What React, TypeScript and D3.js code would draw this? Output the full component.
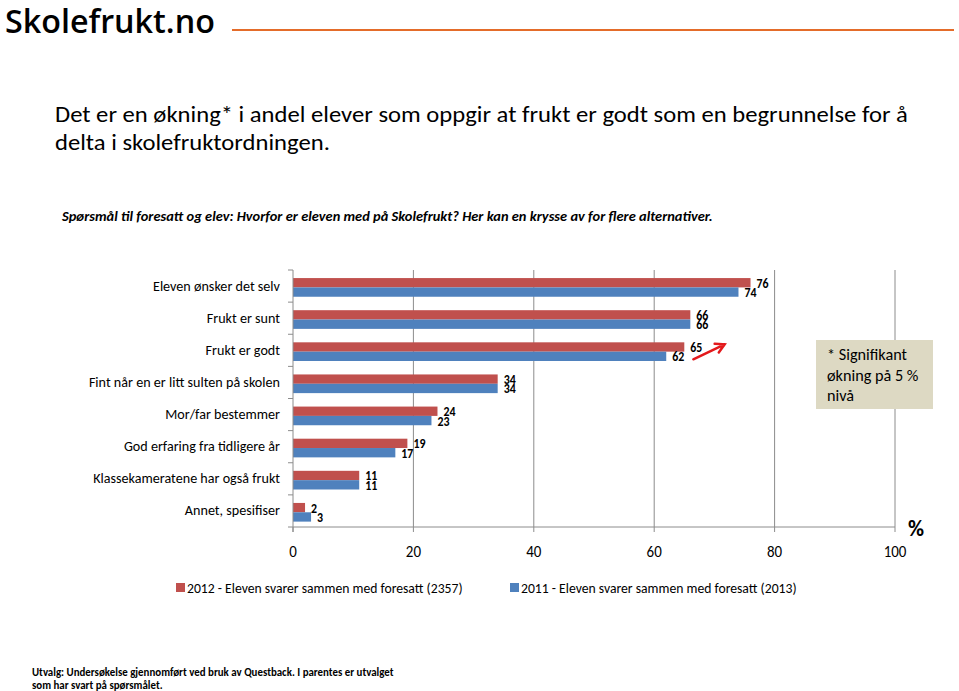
import React from "react";
import * as d3 from "d3";

const WIDTH = 959;
const HEIGHT = 691;
const FONT = "Carlito, Lato, 'Open Sans', sans-serif";

const categories = [
  "Eleven ønsker det selv",
  "Frukt er sunt",
  "Frukt er godt",
  "Fint når en er litt sulten på skolen",
  "Mor/far bestemmer",
  "God erfaring fra tidligere år",
  "Klassekameratene har også frukt",
  "Annet, spesifiser",
];
const values2012 = [76, 66, 65, 34, 24, 19, 11, 2];
const values2011 = [74, 66, 62, 34, 23, 17, 11, 3];
const seriesNames = [
  "2012 - Eleven svarer sammen med foresatt (2357)",
  "2011 - Eleven svarer sammen med foresatt (2013)",
];
const seriesColors = ["#C0504D", "#4F81BD"];
const xTicks = [0, 20, 40, 60, 80, 100];

const titleLines = [
  "Det er en økning* i andel elever som oppgir at frukt er godt som en begrunnelse for å",
  "delta i skolefruktordningen.",
];
const subtitle =
  "Spørsmål  til foresatt og elev: Hvorfor er eleven med på Skolefrukt? Her kan en krysse av for flere alternativer.";
const noteLines = ["* Signifikant", "økning på 5 %", "nivå"];
const footerLines = [
  "Utvalg: Undersøkelse gjennomført ved bruk av Questback. I parentes er utvalget",
  "som har svart på spørsmålet.",
];

const PLOT = { left: 293, right: 895, top: 270, bottom: 527 };

type Sel = d3.Selection<SVGSVGElement, unknown, null, undefined>;

// a block of text lines, squeezed sideways so one of its lines gets the wanted width
const textBlock = (
  svg: Sel,
  o: {
    x: number;
    ys: number[];
    lines: string[];
    size: number;
    target: number;
    refIndex?: number;
    weight?: string | number;
    style?: string;
    anchor?: string;
    family?: string;
  }
) => {
  const g = svg
    .append("g")
    .attr("font-family", o.family ?? FONT)
    .attr("font-size", o.size)
    .attr("font-weight", o.weight ?? "normal")
    .attr("font-style", o.style ?? "normal")
    .attr("text-anchor", o.anchor ?? "start")
    .attr("fill", "#000");
  const texts = g
    .selectAll("text")
    .data(o.lines)
    .join("text")
    .attr("x", 0)
    .attr("y", (_, i) => o.ys[i])
    .text((d) => d);
  const w = (texts.nodes()[o.refIndex ?? 0] as SVGTextElement).getComputedTextLength();
  g.attr("transform", `translate(${o.x},0) scale(${o.target / w},1)`);
  return g;
};

const App = () => {
  const ref = React.useRef<SVGSVGElement>(null);

  React.useEffect(() => {
    const svg = d3.select(ref.current!);
    svg.selectAll("*").remove();

    // header
    textBlock(svg, {
      x: 5,
      ys: [33],
      lines: ["Skolefrukt.no"],
      size: 33,
      target: 210,
      weight: 600,
      family: "'Open Sans', sans-serif",
    });
    svg
      .append("line")
      .attr("x1", 232)
      .attr("x2", 954)
      .attr("y1", 30)
      .attr("y2", 30)
      .attr("stroke", "#E46C2A")
      .attr("stroke-width", 2);

    textBlock(svg, { x: 55, ys: [122, 150], lines: titleLines, size: 22, target: 853 });
    textBlock(svg, {
      x: 62,
      ys: [221],
      lines: [subtitle],
      size: 14,
      target: 651,
      weight: "bold",
      style: "italic",
    });

    // scales
    const x = d3.scaleLinear().domain([0, 100]).range([PLOT.left, PLOT.right]);
    const y = d3
      .scaleBand<string>()
      .domain(categories)
      .range([PLOT.top, PLOT.bottom])
      .padding(0);
    const inner = d3
      .scaleBand<number>()
      .domain([0, 1])
      .range([0, y.bandwidth()])
      .paddingInner(0)
      .paddingOuter(0.72)
      .align(0.6);

    // gridlines
    svg
      .append("g")
      .selectAll("line")
      .data(xTicks.slice(1))
      .join("line")
      .attr("x1", (d) => x(d))
      .attr("x2", (d) => x(d))
      .attr("y1", PLOT.top)
      .attr("y2", PLOT.bottom)
      .attr("stroke", "#8C8C8C")
      .attr("stroke-width", 1);

    // bars
    const series = [values2012, values2011];
    series.forEach((vals, s) => {
      svg
        .append("g")
        .selectAll("rect")
        .data(vals)
        .join("rect")
        .attr("x", x(0))
        .attr("y", (_, i) => y(categories[i])! + inner(s)!)
        .attr("width", (d) => x(d) - x(0))
        .attr("height", inner.bandwidth())
        .attr("fill", seriesColors[s]);
    });

    // axes
    const yTicks = [...categories.map((c) => y(c)!), PLOT.bottom];
    const axes = svg.append("g").attr("stroke", "#8C8C8C").attr("stroke-width", 1);
    axes
      .append("line")
      .attr("x1", x(0))
      .attr("x2", x(0))
      .attr("y1", PLOT.top)
      .attr("y2", PLOT.bottom + 5);
    axes
      .selectAll("line.ytick")
      .data(yTicks)
      .join("line")
      .attr("class", "ytick")
      .attr("x1", x(0) - 5)
      .attr("x2", x(0))
      .attr("y1", (d) => d)
      .attr("y2", (d) => d);
    axes
      .append("line")
      .attr("x1", x(0))
      .attr("x2", x(100))
      .attr("y1", PLOT.bottom)
      .attr("y2", PLOT.bottom);
    axes
      .selectAll("line.xtick")
      .data(xTicks)
      .join("line")
      .attr("class", "xtick")
      .attr("x1", (d) => x(d))
      .attr("x2", (d) => x(d))
      .attr("y1", PLOT.bottom)
      .attr("y2", PLOT.bottom + 5);

    // category labels
    textBlock(svg, {
      x: 280,
      ys: categories.map((c) => y(c)! + y.bandwidth() / 2 + 4.5),
      lines: categories,
      size: 13.5,
      target: 187,
      refIndex: 6,
      anchor: "end",
    });

    // x tick labels
    svg
      .append("g")
      .attr("font-family", FONT)
      .attr("font-size", 17)
      .attr("fill", "#000")
      .attr("text-anchor", "middle")
      .selectAll("text")
      .data(xTicks)
      .join("text")
      .attr("transform", (d) => `translate(${x(d)},557) scale(0.88,1)`)
      .text((d) => d);

    svg
      .append("text")
      .attr("x", 916)
      .attr("y", 536)
      .attr("text-anchor", "middle")
      .attr("font-family", FONT)
      .attr("font-size", 22)
      .attr("font-weight", "bold")
      .text("%");

    // value labels
    series.forEach((vals, s) => {
      svg
        .append("g")
        .attr("font-family", FONT)
        .attr("font-size", 14.5)
        .attr("font-weight", "bold")
        .attr("fill", "#000")
        .selectAll("text")
        .data(vals)
        .join("text")
        .attr(
          "transform",
          (d, i) =>
            `translate(${x(d) + 6},${y(categories[i])! + inner(s)! + inner.bandwidth() / 2 + 5}) scale(0.82,1)`
        )
        .text((d) => d);
    });

    // red arrow next to "Frukt er godt"
    const gy = y(categories[2])! + y.bandwidth() / 2;
    const x0 = x(66.5);
    const y0 = gy + 9;
    const x1 = x(71.7);
    const y1 = gy - 6;
    const ang = Math.atan2(y1 - y0, x1 - x0);
    const head = 10;
    const spread = 0.5;
    svg
      .append("path")
      .attr(
        "d",
        `M${x0},${y0}L${x1},${y1}M${x1 - head * Math.cos(ang - spread)},${y1 - head * Math.sin(ang - spread)}L${x1},${y1}L${x1 - head * Math.cos(ang + spread)},${y1 - head * Math.sin(ang + spread)}`
      )
      .attr("fill", "none")
      .attr("stroke", "#E3191C")
      .attr("stroke-width", 2.5)
      .attr("stroke-linecap", "round");

    // note box
    svg
      .append("rect")
      .attr("x", 816)
      .attr("y", 340)
      .attr("width", 117)
      .attr("height", 69)
      .attr("fill", "#DDD9C3");
    textBlock(svg, {
      x: 827,
      ys: [360.5, 381, 401.5],
      lines: noteLines,
      size: 16,
      target: 80,
    });

    // legend
    const legendX = [176, 510];
    seriesNames.forEach((name, s) => {
      svg
        .append("rect")
        .attr("x", legendX[s])
        .attr("y", 583)
        .attr("width", 9)
        .attr("height", 9)
        .attr("fill", seriesColors[s]);
      textBlock(svg, {
        x: legendX[s] + 11,
        ys: [593],
        lines: [name],
        size: 13.5,
        target: 276,
      });
    });

    // footer
    textBlock(svg, {
      x: 32,
      ys: [676, 689],
      lines: footerLines,
      size: 11.5,
      target: 362,
      weight: "bold",
    });
  }, []);

  return (
    <svg
      ref={ref}
      width={WIDTH}
      height={HEIGHT}
      style={{ position: "absolute", left: 0, top: 0, display: "block", background: "#fff" }}
    />
  );
};

export default App;
